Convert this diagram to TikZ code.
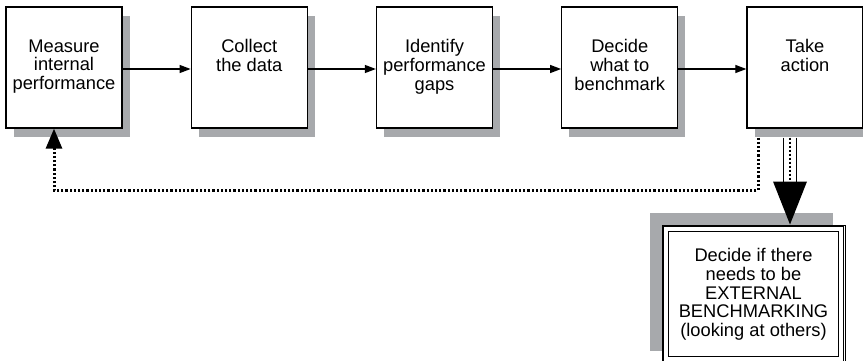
\documentclass[tikz,border=0pt]{standalone}
\usepackage{fontspec}
\setmainfont{Liberation Sans}
\usetikzlibrary{arrows.meta,shadows}
\definecolor{shade}{RGB}{167,169,172}
\begin{document}
\begin{tikzpicture}[x=1pt,y=-1pt,
  stepbox/.style={draw=black, fill=white, line width=1.3pt,
    minimum width=116pt, minimum height=121pt, inner sep=0pt,
    drop shadow={shadow xshift=7.5pt, shadow yshift=-9pt, fill=shade, opacity=1}},
  steptext/.style={anchor=north, align=center, inner sep=0pt,
    font=\fontsize{18.3}{18.6}\selectfont},
  flow/.style={line width=1.2pt, -{Triangle[length=11pt,width=8pt]}},
  feedback/.style={line width=3pt, dash pattern=on 2.2pt off 2pt},
  frame/.style={line width=1pt},
]
\useasboundingbox (0,0) rectangle (863,361);
\clip (0,0) rectangle (863,361);

% the five steps
\node[stepbox] (b1) at (64,67.5) {};
\node[stepbox] (b2) at (249.25,67.5) {};
\node[stepbox] (b3) at (434.5,67.5) {};
\node[stepbox] (b4) at (619.75,67.5) {};
\node[stepbox] (b5) at (805,67.5) {};

\node[steptext] (t1) at ([shift={(0,33)}]b1.north) {Measure\\internal\\performance};
\node[steptext] (t2) at ([shift={(0,33)}]b2.north) {Collect\\the data};
\node[steptext] (t3) at ([shift={(0,33)}]b3.north) {Identify\\performance\\gaps};
\node[steptext] (t4) at ([shift={(0,33)}]b4.north) {Decide\\what to\\benchmark};
\node[steptext] (t5) at ([shift={(0,33)}]b5.north) {Take\\action};

\draw[flow] ([shift={(0,1.5)}]b1.east) -- ([shift={(0,1.5)}]b2.west);
\draw[flow] ([shift={(0,1.5)}]b2.east) -- ([shift={(0,1.5)}]b3.west);
\draw[flow] ([shift={(0,1.5)}]b3.east) -- ([shift={(0,1.5)}]b4.west);
\draw[flow] ([shift={(0,1.5)}]b4.east) -- ([shift={(0,1.5)}]b5.west);

% external benchmarking box with triple frame
\node[draw=black, frame, fill=white, minimum width=183pt, minimum height=138pt,
  inner sep=0pt,
  drop shadow={shadow xshift=-12pt, shadow yshift=12pt, fill=shade, opacity=1}]
  (ext) at (753.5,294) {};
\draw[frame] ([shift={(2,2)}]ext.north west) rectangle ([shift={(-2,-2)}]ext.south east);
\draw[frame] ([shift={(7,7)}]ext.north west) rectangle ([shift={(-7,-7)}]ext.south east);
\node[steptext] (et) at ([shift={(0,24)}]ext.north)
  {Decide if there\\needs to be\\EXTERNAL\\BENCHMARKING\\(looking at others)};

% feedback loop back to the first step
\draw[feedback, -{Triangle[length=20pt,width=16pt]}]
  ([shift={(-47,9)}]b5.south) |- ([shift={(-10,62)}]b1.south) -- ([shift={(-10,0)}]b1.south);

% hollow arrow down to the external box
\coordinate (ds) at ([shift={(-15,9)}]b5.south);
\coordinate (dt) at (ds |- ext.north);
\draw[frame] ([shift={(-6.5,0)}]ds) -- ([shift={(-6.5,-43)}]dt);
\draw[frame] ([shift={(6.5,0)}]ds) -- ([shift={(6.5,-43)}]dt);
\draw[line width=2.4pt, dash pattern=on 2pt off 2pt] (ds) -- ([shift={(0,-43)}]dt);
\fill ([shift={(-17,-43)}]dt) -- ([shift={(17,-43)}]dt) -- (dt) -- cycle;
\end{tikzpicture}
\end{document}
